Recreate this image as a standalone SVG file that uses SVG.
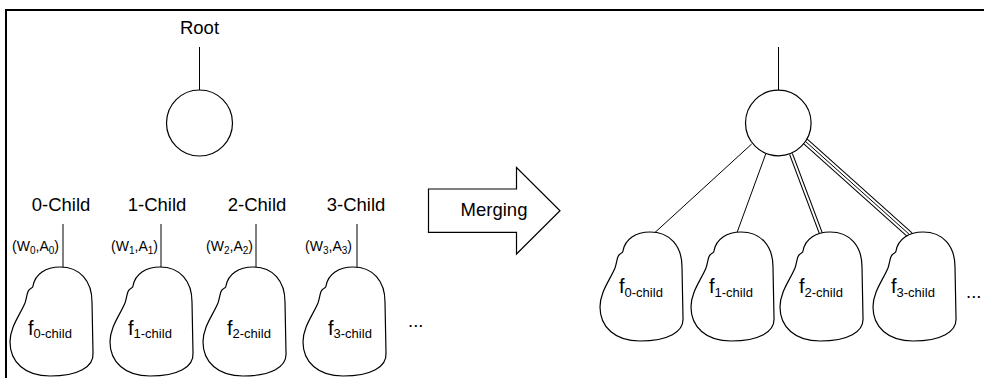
<svg xmlns="http://www.w3.org/2000/svg" width="984" height="378" viewBox="0 0 984 378">
  <style>
    text { font-family: "Liberation Sans", Arial, sans-serif; fill: #000; }
    .lbl { font-size: 18.5px; }
    .wa { font-size: 14px; }
    .sub { font-size: 10px; }
    .f { font-size: 20px; }
    .fsub { font-size: 13px; }
    .ln { stroke: #000; stroke-width: 1; fill: none; }
    .node { fill: #fff; stroke: #000; stroke-width: 1.2; }
    .frame { fill: none; stroke: #000; stroke-width: 2; }
  </style>
  <defs>
    <!-- irregular "cloud" subtree outline, origin at its left/top extent -->
    <path id="blob" d="M 23,19 C 25,7 36,0 50,0 C 70,0 82,14 82,35 L 83,86 C 84,100 68,109 40,109 C 15,109 0,95 0,75 C 0,60 10,48 15,36 C 17,30 17,25 19,23 C 21,21 23,21 23,19 Z"/>
  </defs>

  <rect width="984" height="378" fill="#fff"/>
  <path class="frame" d="M 6,378 V 10 H 984"/>

  <!-- connectors -->
  <g id="connectors">
    <line class="ln" x1="199.5" y1="47" x2="199.5" y2="90"/>
    <line class="ln" x1="63" y1="224" x2="63" y2="269"/>
    <line class="ln" x1="161" y1="224" x2="161" y2="269"/>
    <line class="ln" x1="256" y1="224" x2="256" y2="269"/>
    <line class="ln" x1="357" y1="224" x2="357" y2="269"/>

    <line class="ln" x1="778.5" y1="47" x2="778.5" y2="90"/>
    <line class="ln" x1="751.7" y1="144" x2="653.3" y2="234"/>
    <line class="ln" x1="765.7" y1="154" x2="736.5" y2="234"/>
    <!-- double edge -->
    <line x1="791" y1="154" x2="821.5" y2="235" stroke="#000" stroke-width="4"/>
    <line x1="791" y1="154" x2="821.5" y2="235" stroke="#fff" stroke-width="2"/>
    <!-- triple edge -->
    <line x1="805" y1="141" x2="910" y2="235" stroke="#000" stroke-width="7"/>
    <line x1="805" y1="141" x2="910" y2="235" stroke="#fff" stroke-width="5"/>
    <line x1="805" y1="141" x2="910" y2="235" stroke="#000" stroke-width="1"/>
  </g>

  <!-- left: root and separate children -->
  <g id="root-left">
    <text class="lbl" x="199.5" y="34" text-anchor="middle">Root</text>
    <circle class="node" cx="199.5" cy="123" r="33"/>
  </g>

  <g id="child0-left">
    <text class="lbl" x="61" y="211" text-anchor="middle">0-Child</text>
    <text class="wa" x="59" y="251" text-anchor="end">(W<tspan class="sub" dy="3">0</tspan><tspan dy="-3">,A</tspan><tspan class="sub" dy="3">0</tspan><tspan dy="-3">)</tspan></text>
    <use href="#blob" class="node" transform="translate(10,267)"/>
    <text class="f" x="28" y="335">f<tspan class="fsub" dy="3">0-child</tspan></text>
  </g>
  <g id="child1-left">
    <text class="lbl" x="157" y="211" text-anchor="middle">1-Child</text>
    <text class="wa" x="158" y="251" text-anchor="end">(W<tspan class="sub" dy="3">1</tspan><tspan dy="-3">,A</tspan><tspan class="sub" dy="3">1</tspan><tspan dy="-3">)</tspan></text>
    <use href="#blob" class="node" transform="translate(110,267)"/>
    <text class="f" x="128" y="335">f<tspan class="fsub" dy="3">1-child</tspan></text>
  </g>
  <g id="child2-left">
    <text class="lbl" x="257" y="211" text-anchor="middle">2-Child</text>
    <text class="wa" x="253" y="251" text-anchor="end">(W<tspan class="sub" dy="3">2</tspan><tspan dy="-3">,A</tspan><tspan class="sub" dy="3">2</tspan><tspan dy="-3">)</tspan></text>
    <use href="#blob" class="node" transform="translate(203,267)"/>
    <text class="f" x="227" y="335">f<tspan class="fsub" dy="3">2-child</tspan></text>
  </g>
  <g id="child3-left">
    <text class="lbl" x="356" y="211" text-anchor="middle">3-Child</text>
    <text class="wa" x="352" y="251" text-anchor="end">(W<tspan class="sub" dy="3">3</tspan><tspan dy="-3">,A</tspan><tspan class="sub" dy="3">3</tspan><tspan dy="-3">)</tspan></text>
    <use href="#blob" class="node" transform="translate(303,267)"/>
    <text class="f" x="328" y="335">f<tspan class="fsub" dy="3">3-child</tspan></text>
  </g>
  <text class="lbl" x="408" y="327">...</text>

  <!-- merge arrow -->
  <g id="merging">
    <polygon class="node" points="428.5,189 516.5,189 516.5,167.5 560,210.7 516.5,254 516.5,232.3 428.5,232.3"/>
    <text class="lbl" x="494" y="216" text-anchor="middle">Merging</text>
  </g>

  <!-- right: merged tree -->
  <g id="root-right">
    <circle class="node" cx="778.3" cy="123" r="32.8"/>
  </g>
  <g id="child0-right">
    <use href="#blob" class="node" transform="translate(600,232)"/>
    <text class="f" x="619" y="293">f<tspan class="fsub" dy="4">0-child</tspan></text>
  </g>
  <g id="child1-right">
    <use href="#blob" class="node" transform="translate(691,232)"/>
    <text class="f" x="709" y="293">f<tspan class="fsub" dy="4">1-child</tspan></text>
  </g>
  <g id="child2-right">
    <use href="#blob" class="node" transform="translate(780,232)"/>
    <text class="f" x="799" y="293">f<tspan class="fsub" dy="4">2-child</tspan></text>
  </g>
  <g id="child3-right">
    <use href="#blob" class="node" transform="translate(873,232)"/>
    <text class="f" x="891" y="293">f<tspan class="fsub" dy="4">3-child</tspan></text>
  </g>
  <text class="lbl" x="966" y="298">...</text>
</svg>
